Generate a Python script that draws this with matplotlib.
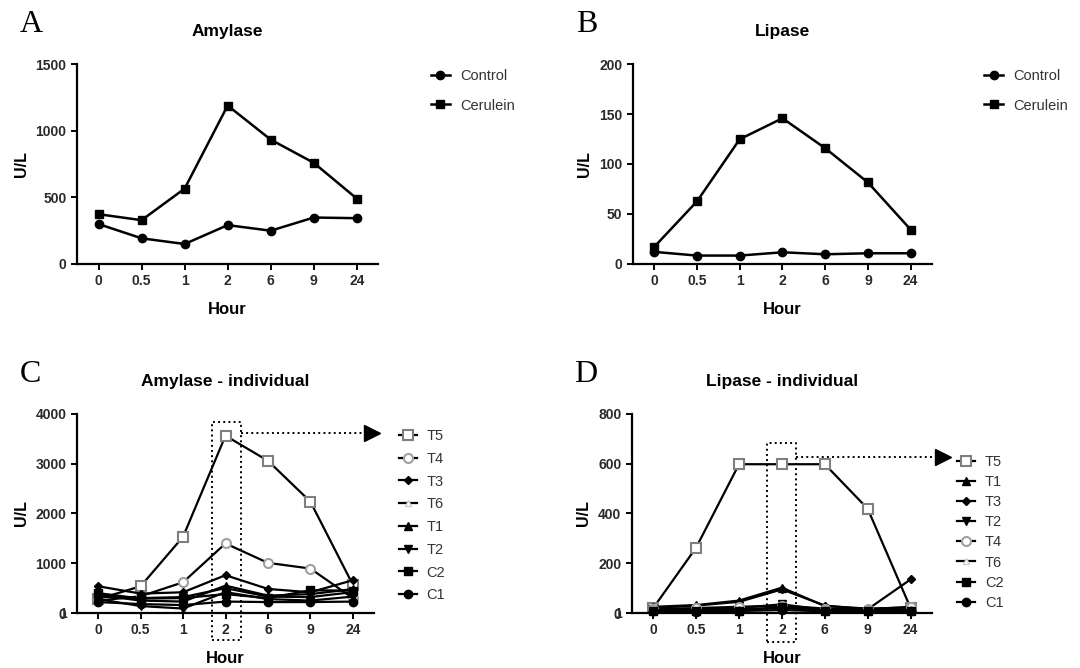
import matplotlib
matplotlib.use("Agg")
import matplotlib.pyplot as plt

plt.rcParams["font.family"] = ["Liberation Sans", "DejaVu Sans"]

hours = ["0", "0.5", "1", "2", "6", "9", "24"]

amy_control = [299, 192, 149, 291, 249, 348, 343]
amy_cerulein = [373, 328, 565, 1189, 933, 759, 490]
lip_control = [12, 8.3, 8.3, 11.6, 9.6, 10.6, 10.6]
lip_cerulein = [17, 62.6, 124.8, 145.8, 115.8, 81.5, 34.3]

# individual animals, amylase
amy_ind = {
    "T5": [280, 538, 1533, 3563, 3059, 2239, 571],
    "T4": [250, 336, 618, 1398, 1008, 894, 300],
    "T3": [538, 390, 417, 760, 484, 417, 659],
    "T6": [330, 300, 320, 500, 330, 320, 420],
    "T1": [360, 250, 230, 550, 350, 380, 480],
    "T2": [280, 140, 90, 420, 280, 250, 330],
    "C2": [400, 290, 300, 380, 300, 457, 450],
    "C1": [220, 180, 160, 230, 220, 220, 230],
}
# individual animals, lipase
lip_ind = {
    "T5": [20, 263, 598, 598, 598, 419, 20],
    "T1": [25, 32, 50, 102, 28, 18, 22],
    "T3": [20, 30, 45, 95, 30, 15, 135],
    "T2": [15, 15, 20, 35, 12, 10, 15],
    "T4": [15, 20, 25, 30, 18, 15, 25],
    "T6": [10, 12, 15, 20, 12, 10, 12],
    "C2": [10, 8, 10, 25, 8, 8, 10],
    "C1": [8, 6, 8, 12, 7, 7, 8],
}

styles = {
    "T5": dict(marker="s", mfc="white", mec="#7f7f7f", ms=7, mew=1.5),
    "T4": dict(marker="o", mfc="white", mec="#a0a0a0", ms=6.5, mew=1.5),
    "T3": dict(marker="D", mfc="black", mec="black", ms=4.5),
    "T6": dict(marker="^", mfc="white", mec="#cccccc", ms=5),
    "T1": dict(marker="^", mfc="black", mec="black", ms=6),
    "T2": dict(marker="v", mfc="black", mec="black", ms=6),
    "C2": dict(marker="s", mfc="black", mec="black", ms=6),
    "C1": dict(marker="o", mfc="black", mec="black", ms=6),
}

x = list(range(len(hours)))

fig = plt.figure(figsize=(10.8, 6.68), dpi=100)
axA = fig.add_axes([0.0713, 0.605, 0.279, 0.299])
axB = fig.add_axes([0.586, 0.605, 0.277, 0.299])
axC = fig.add_axes([0.0713, 0.0823, 0.275, 0.298])
axD = fig.add_axes([0.585, 0.0823, 0.278, 0.298])


def style_axis(ax, title, ymax, step, extra_one=False):
    ax.set_xlim(-0.5, 6.5)
    ax.set_ylim(0, ymax)
    ax.set_xticks(x)
    ax.set_xticklabels(hours)
    ticks = list(range(0, ymax + 1, step))
    labels = [str(t) for t in ticks]
    if extra_one:
        # the original axis shows a "1" printed on top of the "0"
        ticks = [0, 1] + ticks[1:]
        labels = ["0", "1"] + labels[1:]
    ax.set_yticks(ticks)
    ax.set_yticklabels(labels)
    for s in ["top", "right"]:
        ax.spines[s].set_visible(False)
    for s in ["left", "bottom"]:
        ax.spines[s].set_linewidth(1.6)
    ax.tick_params(width=1.4, length=4, labelsize=10)
    for lab in ax.get_xticklabels() + ax.get_yticklabels():
        lab.set_fontweight("bold")
        lab.set_color("#2a2a2a")
    ax.set_title(title, fontsize=12.5, fontweight="bold", pad=20)
    ax.set_xlabel("Hour", fontsize=12, fontweight="bold", labelpad=10)
    ax.set_ylabel("U/L", fontsize=11.5, fontweight="bold", labelpad=5)


leg_kw = dict(loc="upper left", frameon=False, fontsize=10.5, labelcolor="#333333",
              handletextpad=0.7)

# A
axA.plot(x, amy_control, "-o", color="black", lw=1.8, ms=6, label="Control", clip_on=False)
axA.plot(x, amy_cerulein, "-s", color="black", lw=1.8, ms=6, label="Cerulein", clip_on=False)
style_axis(axA, "Amylase", 1500, 500)
axA.legend(bbox_to_anchor=(1.13, 1.04), handlelength=1.3, labelspacing=1.05, **leg_kw)

# B
axB.plot(x, lip_control, "-o", color="black", lw=1.8, ms=6, label="Control", clip_on=False)
axB.plot(x, lip_cerulein, "-s", color="black", lw=1.8, ms=6, label="Cerulein", clip_on=False)
style_axis(axB, "Lipase", 200, 50)
axB.legend(bbox_to_anchor=(1.13, 1.04), handlelength=1.3, labelspacing=1.05, **leg_kw)

# C
for name, vals in amy_ind.items():
    axC.plot(x, vals, "-", color="black", lw=1.6, label=name, clip_on=False, **styles[name])
style_axis(axC, "Amylase - individual", 4000, 1000, extra_one=True)
axC.legend(bbox_to_anchor=(1.04, 0.99), handlelength=1.2, labelspacing=0.6, **leg_kw)

# D
for name, vals in lip_ind.items():
    axD.plot(x, vals, "-", color="black", lw=1.6, label=name, clip_on=False, **styles[name])
style_axis(axD, "Lipase - individual", 800, 200, extra_one=True)
axD.legend(bbox_to_anchor=(1.04, 0.86), handlelength=1.2, labelspacing=0.42, **leg_kw)

# dotted highlight boxes and arrows
for ax, x0, x1, y0, y1, ya, xa in [(axC, 2.68, 3.36, -543, 3839, 3618, 6.45),
                                   (axD, 2.66, 3.32, -117, 683, 627, 6.75)]:
    ax.plot([x0, x1, x1, x0, x0], [y0, y0, y1, y1, y0], ":", color="black", lw=1.4, clip_on=False)
    ax.plot([x1, xa], [ya, ya], ":", color="black", lw=1.4, clip_on=False)
    ax.plot([xa], [ya], marker=">", ms=11, color="black", clip_on=False)

for ax, letter in [(axA, "A"), (axB, "B"), (axC, "C"), (axD, "D")]:
    pos = ax.get_position()
    fig.text(pos.x0 - 0.053, pos.y1 + 0.037, letter, family="Liberation Serif",
             fontsize=23, va="bottom", ha="left")

fig.savefig("out.png", dpi=100)
